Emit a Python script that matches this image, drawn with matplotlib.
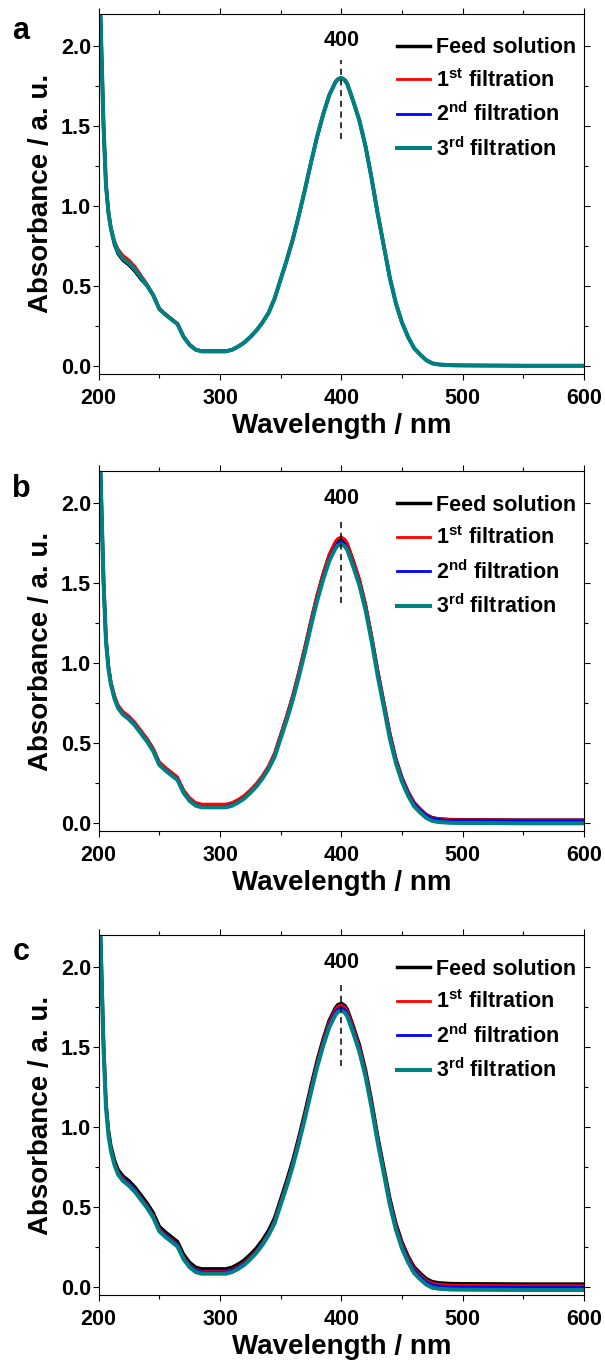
import matplotlib
matplotlib.use("Agg")
import matplotlib.pyplot as plt
from matplotlib.ticker import MultipleLocator

plt.rcParams['font.family'] = ['Liberation Sans', 'DejaVu Sans']
plt.rcParams['font.weight'] = 'bold'
plt.rcParams['axes.labelweight'] = 'bold'
plt.rcParams['mathtext.fontset'] = 'custom'
plt.rcParams['mathtext.rm'] = 'Liberation Sans:bold'
plt.rcParams['mathtext.it'] = 'Liberation Sans:bold'
plt.rcParams['mathtext.bf'] = 'Liberation Sans:bold'
plt.rcParams['mathtext.default'] = 'rm'

# wavelengths (nm)
wavelength = [200, 202, 204, 206, 208, 210, 213, 216, 220, 225, 230, 235, 240, 245, 250, 255, 260,
              265, 270, 275, 280, 285, 290, 295, 300, 305, 310, 315, 320, 325, 330, 335, 340,
              345, 350, 355, 360, 365, 370, 375, 380, 385, 390, 395, 397, 400, 403, 405, 410, 415, 420,
              425, 430, 435, 440, 445, 450, 455, 460, 465, 470, 475, 480, 490, 500, 550, 600]

# panel a
feed_a = [2.60, 2.05, 1.50, 1.13, 0.96, 0.86, 0.76, 0.70, 0.66, 0.63, 0.59, 0.54, 0.50, 0.44, 0.355, 0.32, 0.29,
          0.26, 0.18, 0.13, 0.10, 0.09, 0.09, 0.09, 0.09, 0.09, 0.10, 0.12, 0.145, 0.18, 0.22, 0.27, 0.33,
          0.42, 0.54, 0.66, 0.79, 0.94, 1.10, 1.27, 1.43, 1.57, 1.69, 1.77, 1.79, 1.80, 1.785, 1.76, 1.65, 1.53, 1.37,
          1.17, 0.95, 0.75, 0.55, 0.39, 0.27, 0.18, 0.11, 0.07, 0.035, 0.015, 0.008, 0.003, 0.002, 0.0, 0.0]
first_a = [2.62, 2.07, 1.52, 1.15, 0.98, 0.87, 0.78, 0.73, 0.69, 0.66, 0.62, 0.565, 0.51, 0.445, 0.36, 0.325, 0.295,
           0.265, 0.185, 0.135, 0.10, 0.095, 0.095, 0.095, 0.095, 0.095, 0.10, 0.12, 0.145, 0.18, 0.22, 0.27, 0.33,
           0.42, 0.54, 0.66, 0.79, 0.94, 1.10, 1.27, 1.43, 1.57, 1.69, 1.77, 1.79, 1.80, 1.785, 1.76, 1.65, 1.53, 1.37,
           1.17, 0.95, 0.75, 0.55, 0.39, 0.27, 0.18, 0.11, 0.07, 0.035, 0.015, 0.008, 0.003, 0.002, 0.0, 0.0]
second_a = [2.60, 2.05, 1.50, 1.13, 0.96, 0.86, 0.77, 0.71, 0.67, 0.64, 0.60, 0.55, 0.50, 0.44, 0.355, 0.32, 0.29,
            0.26, 0.18, 0.13, 0.10, 0.09, 0.09, 0.09, 0.09, 0.09, 0.10, 0.12, 0.145, 0.18, 0.22, 0.27, 0.33,
            0.42, 0.54, 0.66, 0.79, 0.94, 1.10, 1.27, 1.43, 1.57, 1.69, 1.77, 1.79, 1.80, 1.785, 1.76, 1.65, 1.53, 1.37,
            1.17, 0.95, 0.75, 0.55, 0.39, 0.27, 0.18, 0.11, 0.07, 0.035, 0.015, 0.008, 0.003, 0.002, 0.0, 0.0]
third_a = [2.60, 2.05, 1.50, 1.13, 0.96, 0.86, 0.77, 0.71, 0.67, 0.64, 0.60, 0.55, 0.50, 0.44, 0.355, 0.32, 0.29,
           0.26, 0.18, 0.13, 0.10, 0.09, 0.09, 0.09, 0.09, 0.09, 0.10, 0.12, 0.145, 0.18, 0.22, 0.27, 0.33,
           0.42, 0.54, 0.66, 0.79, 0.94, 1.10, 1.27, 1.43, 1.57, 1.69, 1.77, 1.79, 1.80, 1.785, 1.76, 1.65, 1.53, 1.37,
           1.17, 0.95, 0.75, 0.55, 0.39, 0.27, 0.18, 0.11, 0.07, 0.035, 0.015, 0.008, 0.003, 0.002, 0.0, 0.0]

# panel b
feed_b = [2.62, 2.07, 1.52, 1.15, 0.98, 0.88, 0.79, 0.73, 0.69, 0.66, 0.62, 0.57, 0.52, 0.46, 0.375, 0.34, 0.31,
          0.28, 0.20, 0.15, 0.12, 0.11, 0.11, 0.11, 0.11, 0.11, 0.12, 0.14, 0.165, 0.20, 0.24, 0.29, 0.35,
          0.431, 0.548, 0.665, 0.793, 0.939, 1.096, 1.262, 1.419, 1.555, 1.673, 1.751, 1.770, 1.780, 1.765, 1.741, 1.634, 1.516, 1.360,
          1.164, 0.949, 0.754, 0.558, 0.401, 0.284, 0.196, 0.128, 0.088, 0.054, 0.035, 0.028, 0.023, 0.022, 0.02, 0.02]
first_b = [2.63, 2.08, 1.53, 1.16, 0.99, 0.89, 0.80, 0.74, 0.70, 0.67, 0.63, 0.58, 0.53, 0.47, 0.385, 0.35, 0.32,
           0.29, 0.21, 0.16, 0.13, 0.12, 0.12, 0.12, 0.12, 0.12, 0.13, 0.15, 0.175, 0.21, 0.25, 0.30, 0.36,
           0.441, 0.558, 0.675, 0.803, 0.949, 1.106, 1.272, 1.429, 1.565, 1.683, 1.761, 1.780, 1.790, 1.775, 1.751, 1.644, 1.526, 1.370,
           1.174, 0.959, 0.764, 0.568, 0.406, 0.289, 0.201, 0.133, 0.093, 0.054, 0.035, 0.028, 0.023, 0.022, 0.02, 0.02]
second_b = [2.615, 2.065, 1.515, 1.145, 0.975, 0.875, 0.785, 0.725, 0.685, 0.655, 0.615, 0.565, 0.515, 0.455, 0.37, 0.335, 0.305,
            0.275, 0.195, 0.145, 0.115, 0.105, 0.105, 0.105, 0.105, 0.105, 0.115, 0.135, 0.16, 0.195, 0.235, 0.285, 0.345,
            0.422, 0.538, 0.655, 0.781, 0.926, 1.081, 1.246, 1.401, 1.537, 1.653, 1.730, 1.750, 1.760, 1.745, 1.721, 1.614, 1.498, 1.343,
            1.149, 0.936, 0.742, 0.548, 0.393, 0.277, 0.189, 0.122, 0.083, 0.049, 0.030, 0.023, 0.018, 0.017, 0.015, 0.015]
third_b = [2.61, 2.06, 1.51, 1.14, 0.97, 0.87, 0.78, 0.72, 0.68, 0.65, 0.61, 0.56, 0.51, 0.45, 0.365, 0.33, 0.30,
           0.27, 0.19, 0.14, 0.11, 0.10, 0.10, 0.10, 0.10, 0.10, 0.11, 0.13, 0.155, 0.19, 0.23, 0.28, 0.34,
           0.415, 0.531, 0.646, 0.772, 0.916, 1.070, 1.234, 1.389, 1.523, 1.639, 1.716, 1.735, 1.745, 1.730, 1.707, 1.601, 1.485, 1.331,
           1.138, 0.921, 0.728, 0.530, 0.376, 0.260, 0.174, 0.106, 0.067, 0.034, 0.015, 0.008, 0.003, 0.002, 0.0, 0.0]

# panel c
feed_c = [2.625, 2.075, 1.525, 1.155, 0.985, 0.885, 0.795, 0.735, 0.695, 0.665, 0.625, 0.575, 0.525, 0.465, 0.38, 0.345, 0.315,
          0.285, 0.205, 0.155, 0.125, 0.115, 0.115, 0.115, 0.115, 0.115, 0.125, 0.145, 0.17, 0.205, 0.245, 0.295, 0.355,
          0.433, 0.550, 0.667, 0.793, 0.939, 1.094, 1.259, 1.415, 1.551, 1.668, 1.745, 1.765, 1.775, 1.760, 1.736, 1.629, 1.512, 1.357,
          1.162, 0.943, 0.749, 0.555, 0.399, 0.282, 0.195, 0.127, 0.088, 0.054, 0.035, 0.028, 0.023, 0.022, 0.02, 0.02]
first_c = [2.61, 2.06, 1.51, 1.14, 0.97, 0.87, 0.78, 0.72, 0.68, 0.65, 0.61, 0.56, 0.51, 0.45, 0.365, 0.33, 0.30,
           0.27, 0.19, 0.14, 0.11, 0.10, 0.10, 0.10, 0.10, 0.10, 0.11, 0.13, 0.155, 0.19, 0.23, 0.28, 0.34,
           0.420, 0.537, 0.654, 0.780, 0.927, 1.083, 1.248, 1.404, 1.541, 1.658, 1.736, 1.755, 1.765, 1.750, 1.726, 1.619, 1.502, 1.346,
           1.151, 0.936, 0.741, 0.546, 0.390, 0.273, 0.186, 0.117, 0.078, 0.044, 0.025, 0.018, 0.013, 0.012, 0.01, 0.01]
second_c = [2.605, 2.055, 1.505, 1.135, 0.965, 0.865, 0.775, 0.715, 0.675, 0.645, 0.605, 0.555, 0.505, 0.445, 0.36, 0.325, 0.295,
            0.265, 0.185, 0.135, 0.105, 0.095, 0.095, 0.095, 0.095, 0.095, 0.105, 0.125, 0.15, 0.185, 0.225, 0.275, 0.335,
            0.412, 0.528, 0.645, 0.771, 0.916, 1.071, 1.236, 1.391, 1.526, 1.643, 1.720, 1.739, 1.749, 1.734, 1.710, 1.604, 1.488, 1.333,
            1.134, 0.921, 0.727, 0.533, 0.378, 0.262, 0.174, 0.107, 0.068, 0.034, 0.015, 0.008, 0.003, 0.002, 0.0, 0.0]
third_c = [2.595, 2.045, 1.495, 1.125, 0.955, 0.855, 0.765, 0.705, 0.665, 0.635, 0.595, 0.545, 0.495, 0.435, 0.35, 0.315, 0.285,
           0.255, 0.175, 0.125, 0.095, 0.085, 0.085, 0.085, 0.085, 0.085, 0.095, 0.115, 0.14, 0.175, 0.215, 0.265, 0.325,
           0.400, 0.516, 0.631, 0.757, 0.901, 1.055, 1.219, 1.374, 1.508, 1.624, 1.701, 1.720, 1.730, 1.715, 1.692, 1.586, 1.470, 1.316,
           1.120, 0.906, 0.711, 0.516, 0.360, 0.243, 0.157, 0.089, 0.050, 0.017, -0.003, -0.009, -0.014, -0.015, -0.017, -0.017]

labels = ['Feed solution', r'1$^{st}$ filtration', r'2$^{nd}$ filtration', r'3$^{rd}$ filtration']
colors = ['#000000', '#ff0000', '#0000ff', '#008080']
widths = [2.5, 2.0, 2.0, 2.9]

panels = ['a', 'b', 'c']
series = [[feed_a, first_a, second_a, third_a],
          [feed_b, first_b, second_b, third_b],
          [feed_c, first_c, second_c, third_c]]

# dashed marker at the absorption maximum
peak_wl = 400
peak_text = '400'
mark_lo = [1.42, 1.38, 1.38]
mark_hi = [1.91, 1.91, 1.91]

fig = plt.figure(figsize=(6.05, 13.63), dpi=100)
bottoms = [0.7258, 0.3901, 0.0497]

for i in range(3):
    ax = fig.add_axes([0.1631, bottoms[i], 0.8021, 0.2641])
    for ys, lab, c, w in zip(series[i], labels, colors, widths):
        ax.plot(wavelength, ys, color=c, lw=w, label=lab, solid_joinstyle='round')

    ax.vlines(peak_wl, mark_lo[i], mark_hi[i], colors='black', linestyles=(0, (4, 3)), lw=1.1)
    ax.text(peak_wl, 2.03, peak_text, ha='center', va='center', fontsize=15.5, fontweight='bold')

    ax.set_xlim(200, 600)
    ax.set_ylim(-0.05, 2.2)
    ax.xaxis.set_major_locator(MultipleLocator(100))
    ax.xaxis.set_minor_locator(MultipleLocator(50))
    ax.yaxis.set_major_locator(MultipleLocator(0.5))
    ax.yaxis.set_minor_locator(MultipleLocator(0.25))
    ax.tick_params(which='both', direction='out', top=True, right=True, width=0.8, labelsize=15.5)
    ax.tick_params(which='major', length=4)
    ax.tick_params(which='minor', length=3)
    ax.tick_params(axis='x', pad=6)
    ax.tick_params(axis='y', pad=1.5)
    for sp in ax.spines.values():
        sp.set_linewidth(0.8)

    ax.set_xlabel('Wavelength / nm', fontsize=20, labelpad=3)
    ax.set_ylabel('Absorbance / a. u.', fontsize=20, labelpad=5)

    ax.legend(loc='upper left', bbox_to_anchor=(0.615, 0.935), frameon=False, fontsize=15.5,
              handlelength=1.55, handletextpad=0.25, labelspacing=0.5, borderpad=0, borderaxespad=0)

    ax.text(-0.16, 0.93, panels[i], transform=ax.transAxes, ha='center', va='baseline',
            fontsize=22, fontweight='bold')

fig.savefig('out.png', dpi=100)
